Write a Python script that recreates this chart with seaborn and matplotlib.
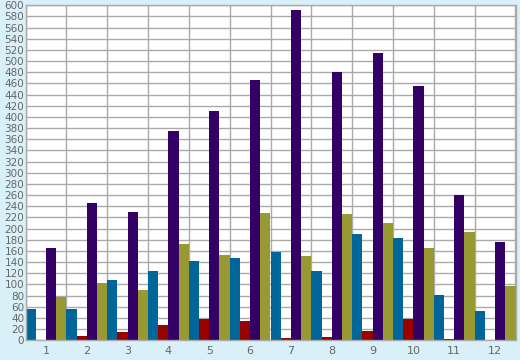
import pandas as pd
import numpy as np
import seaborn as sns
import matplotlib.pyplot as plt
from matplotlib.ticker import MultipleLocator, FixedLocator

months = [str(i) for i in range(1, 13)]
blue = [56, 56, 108, 124, 142, 147, 158, 124, 190, 183, 81, 53]
red = [1, 8, 15, 27, 38, 35, 4, 6, 17, 38, 2, 1]
purple = [165, 246, 230, 375, 411, 466, 592, 481, 515, 456, 260, 176]
olive = [77, 103, 90, 172, 153, 228, 151, 226, 210, 165, 194, 97]

series = {'blue': blue, 'red': red, 'purple': purple, 'olive': olive}
colors = ['#006699', '#990000', '#330066', '#999933']

# long format for seaborn
rows = []
for name, vals in series.items():
    for m, v in zip(months, vals):
        rows.append({'month': m, 'series': name, 'value': v})
df = pd.DataFrame(rows)

sns.set_style('white')
fig = plt.figure(figsize=(5.2, 3.6), dpi=100, facecolor='#d9f0f8')
ax = fig.add_axes([25.5 / 520, 19.7 / 360, 490 / 520, 335 / 360])

sns.barplot(data=df, x='month', y='value', hue='series', palette=colors,
            width=1.0, linewidth=0, saturation=1, legend=False, ax=ax)

ax.set_xlim(-0.5, 11.5)
ax.set_ylim(0, 600)
ax.yaxis.set_major_locator(MultipleLocator(20))
ax.xaxis.set_minor_locator(FixedLocator(np.arange(-0.5, 12, 1)))

ax.set_axisbelow(True)
ax.grid(True, axis='y', color='#aaaaaa', linewidth=1)
ax.grid(True, axis='x', which='minor', color='#aaaaaa', linewidth=1)

ax.tick_params(axis='x', which='major', length=0, pad=4, labelsize=8, labelcolor='#666666')
ax.tick_params(axis='x', which='minor', length=5, width=1, color='#999999', direction='out')
ax.tick_params(axis='y', length=0, pad=1, labelsize=7.5, labelcolor='#666666')

for s in ax.spines.values():
    s.set_color('#aaaaaa')
    s.set_linewidth(1)

ax.set_xlabel('')
ax.set_ylabel('')

fig.savefig('out.png', dpi=100, facecolor=fig.get_facecolor())
